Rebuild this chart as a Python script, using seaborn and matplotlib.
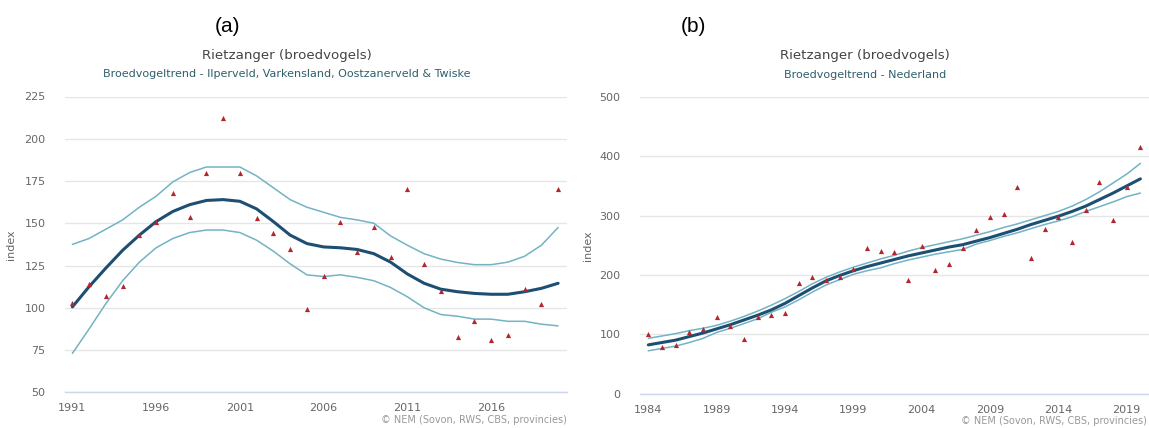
import matplotlib
matplotlib.use("Agg")
import matplotlib.pyplot as plt
import seaborn as sns
import pandas as pd

# ---- Regional trend: Ilperveld, Varkensland, Oostzanerveld & Twiske ----
years_a = list(range(1991, 2021))
obs_a = [103, 114, 107, 113, 143, 151, 168, 154, 180, 212,
         180, 153, 144, 135, 99, 119, 151, 133, 148, 130,
         170, 126, 110, 83, 92, 81, 84, 111, 102, 170]
trend_a = [100.5, 112.5, 123.5, 134, 143, 151, 157, 161, 163.5, 164,
           163, 158.5, 151, 143, 138, 136, 135.5, 134.5, 132, 127,
           120, 114.5, 111, 109.5, 108.5, 108, 108, 109.5, 111.5, 114.5]
upper_a = [137.5, 141, 146.5, 152, 159.5, 166, 174.5, 180, 183.3, 183.3,
           183.3, 178, 171, 164, 159.5, 156.5, 153.5, 152, 150, 142.5,
           137, 132, 128.8, 126.8, 125.5, 125.5, 127, 130.5, 137, 147.5]
lower_a = [73, 87.5, 102.5, 116, 127, 135.5, 141, 144.5, 146, 146,
           144.5, 140, 133.5, 126, 119.5, 118.5, 119.5, 118, 116, 112,
           106.5, 100, 96, 95, 93.3, 93.3, 92, 92, 90.3, 89.3]
yticks_a = [50, 75, 100, 125, 150, 175, 200, 225]
xticks_a = [1991, 1996, 2001, 2006, 2011, 2016]

# ---- National trend: Nederland ----
years_b = list(range(1984, 2021))
obs_b = [100, 79, 81, 104, 109, 129, 114, 92, 129, 133,
         135, 186, 197, 191, 197, 210, 246, 241, 239, 191,
         248, 208, 219, 245, 275, 298, 303, 349, 228, 277,
         297, 255, 310, 356, 292, 349, 415]
trend_b = [82, 86, 90, 96, 102, 109, 116, 124, 132, 141,
           152, 165, 178, 190, 199, 207, 214, 220, 226, 232,
           237, 242, 247, 251, 257, 263, 270, 277, 285, 292,
           299, 307, 316, 327, 338, 350, 362]
upper_b = [93, 97, 101, 106, 110, 115, 122, 130, 139, 149,
           160, 172, 185, 196, 205, 213, 220, 227, 233, 240,
           246, 251, 256, 261, 267, 273, 280, 286, 293, 300,
           307, 316, 327, 340, 355, 370, 388]
lower_b = [72, 76, 80, 86, 93, 103, 110, 118, 126, 137,
           146, 158, 171, 183, 192, 201, 207, 212, 219, 225,
           230, 235, 239, 243, 252, 258, 265, 271, 278, 285,
           291, 298, 307, 315, 323, 332, 338]
yticks_b = [0, 100, 200, 300, 400, 500]
xticks_b = [1984, 1989, 1994, 1999, 2004, 2009, 2014, 2019]

TITLE = "Rietzanger (broedvogels)"
SUB_A = "Broedvogeltrend - Ilperveld, Varkensland, Oostzanerveld & Twiske"
SUB_B = "Broedvogeltrend - Nederland"
CREDIT = "\u00a9 NEM (Sovon, RWS, CBS, provincies)"

DARK = "#1d4f73"
LIGHT = "#72b3c4"
POINT = "#b3262e"
GRID = "#e6e6e6"
AXIS = "#ccd6eb"
LABEL = "#666666"

sns.set_style("white")
plt.rcParams["font.family"] = ["DejaVu Sans"]

W, H = 1149, 428
fig = plt.figure(figsize=(W / 100, H / 100), dpi=100)


def px_axes(x0, x1, y0, y1):
    return fig.add_axes([x0 / W, 1 - y1 / H, (x1 - x0) / W, (y1 - y0) / H])


def draw_panel(ax, years, obs, trend, upper, lower, yticks, xticks, xlim):
    df = pd.DataFrame({"year": years, "obs": obs, "trend": trend,
                       "upper": upper, "lower": lower})
    sns.lineplot(data=df, x="year", y="upper", ax=ax, color=LIGHT, lw=1.1)
    sns.lineplot(data=df, x="year", y="lower", ax=ax, color=LIGHT, lw=1.1)
    sns.lineplot(data=df, x="year", y="trend", ax=ax, color=DARK, lw=2.2)
    sns.scatterplot(data=df, x="year", y="obs", ax=ax, marker="^",
                    color=POINT, s=14, linewidth=0, zorder=5)
    ax.set_xlim(*xlim)
    ax.set_ylim(yticks[0], yticks[-1])
    ax.set_yticks(yticks)
    ax.set_xticks(xticks)
    ax.yaxis.grid(True, color=GRID, lw=1)
    ax.xaxis.grid(False)
    for side in ("top", "right", "left"):
        ax.spines[side].set_visible(False)
    ax.spines["bottom"].set_color(AXIS)
    ax.spines["bottom"].set_linewidth(1)
    ax.tick_params(axis="y", length=0, pad=14, labelsize=8, labelcolor=LABEL)
    ax.tick_params(axis="x", length=6, width=1, color=AXIS, direction="out",
                   pad=2, labelsize=8, labelcolor=LABEL)
    ax.set_xlabel("")
    ax.set_ylabel("index", fontsize=8, color=LABEL)
    ax.set_facecolor("white")


ax_a = px_axes(65, 567, 96.5, 392.3)
draw_panel(ax_a, years_a, obs_a, trend_a, upper_a, lower_a,
           yticks_a, xticks_a, (1990.56, 2020.53))
ax_a.yaxis.set_label_coords((16 - 65) / (567 - 65), 0.5)

ax_b = px_axes(640, 1149, 97, 393.5)
draw_panel(ax_b, years_b, obs_b, trend_b, upper_b, lower_b,
           yticks_b, xticks_b, (1983.39, 2020.63))
ax_b.yaxis.set_label_coords((593 - 640) / (1149 - 640), 0.5)


def ftext(x, y, s, **kw):
    fig.text(x / W, 1 - y / H, s, va="center", **kw)


# panel letters
ftext(227, 26, "(a)", ha="center", fontsize=15, color="black",
      family=["Liberation Sans", "DejaVu Sans"])
ftext(693, 26, "(b)", ha="center", fontsize=15, color="black",
      family=["Liberation Sans", "DejaVu Sans"])

# chart titles and subtitles
ftext(287, 56, TITLE, ha="center", fontsize=9.6, color="#444444")
ftext(287, 74, SUB_A, ha="center", fontsize=8, color="#2f5f6b")
ftext(865, 56, TITLE, ha="center", fontsize=9.6, color="#444444")
ftext(865, 75, SUB_B, ha="center", fontsize=8, color="#2f5f6b")

# credits
ftext(567, 420, CREDIT, ha="right", fontsize=7, color="#999999")
ftext(1147, 421, CREDIT, ha="right", fontsize=7, color="#999999")

fig.savefig("out.png", dpi=100, facecolor="white")
